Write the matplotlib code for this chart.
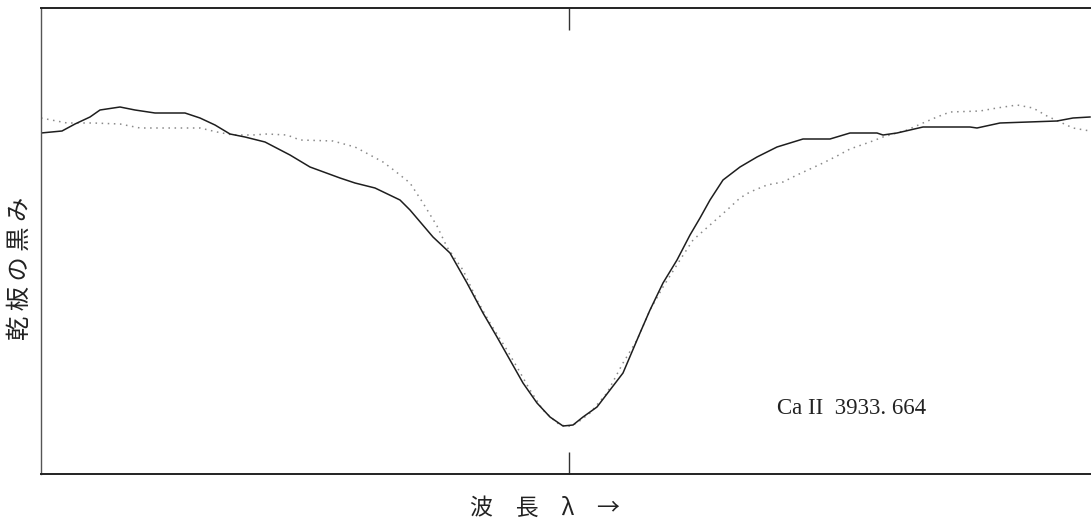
import numpy as np
import matplotlib
matplotlib.use('Agg')
from matplotlib import pyplot as plt

plt.rcParams['font.family'] = ['Noto Sans CJK JP', 'DejaVu Sans']

# wavelength offset from line centre (arbitrary units) and plate darkness
x_solid = [-528, -507, -494, -479, -469, -449, -434, -414, -384, -369, -354,
           -339, -324, -304, -279, -259, -229, -214, -194, -169, -159, -136,
           -119, -102, -86, -72, -59, -46, -32, -19, -6, 4, 14, 28, 41, 54,
           71, 81, 94, 108, 121, 131, 141, 154, 171, 188, 208, 221, 234, 261,
           281, 308, 314, 328, 354, 401, 408, 431, 488, 504, 521]
y_solid = [341, 343, 350, 357, 364, 367, 364, 361, 361, 356, 349,
           340, 337, 332, 319, 307, 296, 291, 286, 274, 264, 237,
           221, 191, 161, 137, 114, 91, 71, 57, 48, 49, 57, 67, 84, 101,
           141, 164, 191, 214, 239, 256, 274, 294, 307, 317, 327, 331, 335, 335,
           341, 341, 339, 341, 347, 347, 346, 351, 353, 356, 357]

x_dot = [-528, -502, -476, -449, -429, -402, -369, -352, -336, -316, -302,
         -282, -269, -236, -214, -199, -186, -174, -159, -146, -132, -122,
         -106, -92, -79, -62, -52, -39, -26, -12, -2, 8, 21, 38, 54, 68, 81,
         94, 111, 124, 141, 158, 171, 181, 198, 214, 228, 241, 254, 268, 281,
         301, 314, 338, 354, 368, 381, 411, 428, 448, 464, 478, 491, 504, 521]
y_dot = [356, 351, 351, 350, 346, 346, 346, 342, 339, 339, 340,
         339, 334, 333, 327, 319, 312, 303, 291, 271, 248, 227,
         204, 174, 151, 124, 107, 84, 64, 51, 47, 51, 61, 81, 111, 134, 164,
         187, 214, 234, 249, 264, 276, 282, 289, 292, 299, 305, 311, 318, 325,
         332, 337, 344, 351, 357, 362, 363, 366, 369, 366, 358, 352, 346, 343]

line_label = 'Ca II  3933. 664'
xlabel = '波　長　λ　→'
ylabel = '乾 板 の 黒 み'

fig = plt.figure(figsize=(10.91, 5.20), dpi=100)
ax = fig.add_axes([41 / 1091, 1 - 474 / 520, 1 - 41 / 1091, 466 / 520])

ax.plot(x_dot, y_dot, color='#8a8a8a', lw=1.1, linestyle=(0, (1, 3)))
ax.plot(x_solid, y_solid, color='#1e1e1e', lw=1.1)

ax.set_xlim(-528, 522)
ax.set_ylim(0, 466)

ax.spines['right'].set_visible(False)
for s in ['top', 'bottom']:
    ax.spines[s].set_linewidth(1.4)
    ax.spines[s].set_color('#222222')
ax.spines['left'].set_linewidth(1.0)
ax.spines['left'].set_color('#555555')

ax.set_yticks([])
ax.set_xticks([0])
ax.tick_params(axis='x', direction='in', top=True, bottom=True,
               length=16, width=1.0, color='#333333',
               labelbottom=False, labeltop=False)

ax.text(208, 66, line_label, fontsize=16.5, va='center', ha='left',
        family=['Liberation Serif', 'DejaVu Serif'], color='#222222')

fig.text(545 / 1091, 1 - 508 / 520, xlabel, fontsize=16.5, ha='center',
         va='center', color='#222222')
fig.text(20 / 1091, 1 - 268 / 520, ylabel, fontsize=17.5, ha='center',
         va='center', rotation=90, color='#222222')

fig.savefig('out.png', dpi=100)
